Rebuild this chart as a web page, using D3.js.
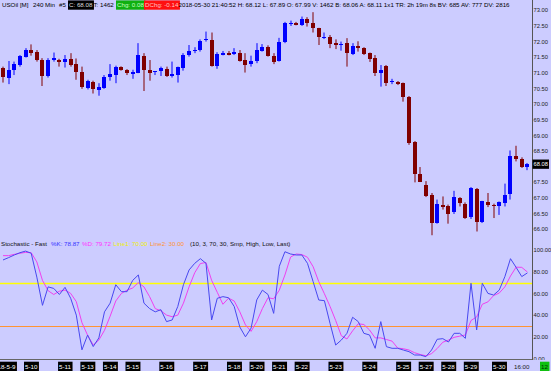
<!DOCTYPE html>
<html>
<head>
<meta charset="UTF-8">
<title>USOil 240 Min</title>
<script src="https://cdn.jsdelivr.net/npm/d3@7"></script>
<style>
  body { margin: 0; background: #ccccff; }
  svg { display: block; }
  text { font-family: "Liberation Sans", Arial, sans-serif; font-size: 6.2px; }
  text.ax { font-size: 5.8px; }
</style>
</head>
<body>
<svg id="chart" width="551" height="371"></svg>
<script>
// ---- data ----
const opens  = [71.15,70.83,71.09,71.25,71.53,71.74,71.66,71.41,70.90,71.40,71.42,71.35,71.45,71.28,71.03,70.52,70.72,70.47,70.52,70.85,
                70.93,71.18,71.09,70.98,71.01,71.55,71.09,71.03,71.04,71.13,70.91,70.93,71.17,71.57,71.69,71.73,72.03,72.05,71.22,71.60,
                71.65,71.60,71.65,71.41,71.26,71.37,71.71,71.84,71.55,71.38,71.98,72.56,72.60,72.53,72.72,72.60,72.43,72.12,72.16,71.97,
                71.89,71.95,71.61,71.86,71.80,71.63,71.48,71.01,71.22,70.69,70.71,70.67,70.24,68.80,67.78,67.42,67.10,66.20,66.79,66.76,
                66.54,66.99,66.82,66.39,67.30,66.23,66.87,66.79,66.73,66.86,67.10,68.33,68.26,67.99];
const highs  = [71.20,71.38,71.36,71.57,71.79,71.91,71.73,71.47,71.47,71.65,71.45,71.57,71.63,71.46,71.20,70.78,70.75,70.67,70.93,71.28,
                71.23,71.21,71.12,71.10,71.95,71.63,71.41,71.06,71.20,71.20,71.36,71.20,71.63,71.89,71.82,72.07,72.32,72.29,71.66,71.70,
                71.70,71.79,71.73,71.63,71.55,71.95,71.92,71.88,71.63,72.12,72.63,72.67,72.63,72.80,72.78,72.94,72.44,72.29,72.21,72.07,
                72.00,72.11,71.95,72.01,71.82,71.65,71.57,71.25,71.25,70.81,70.74,70.69,70.26,68.82,67.99,67.54,67.16,66.95,67.05,66.79,
                67.23,67.03,66.86,67.35,67.32,66.91,67.16,66.82,66.89,67.46,68.52,68.67,68.30,68.12];
const lows   = [70.69,70.64,70.93,71.20,71.49,71.55,71.36,70.58,70.85,71.36,71.20,71.17,71.20,70.78,70.49,70.47,70.34,70.27,70.49,70.75,
                70.67,71.07,70.93,70.81,70.99,70.42,70.75,70.93,70.90,70.87,70.85,70.69,71.07,71.52,71.63,71.68,72.00,71.20,71.13,71.56,
                71.56,71.57,71.36,71.01,71.20,71.31,71.68,71.52,71.28,71.36,71.95,72.50,72.52,72.50,72.48,72.29,71.89,72.08,71.79,71.76,
                71.71,71.20,71.57,71.68,71.57,71.35,70.90,70.56,70.58,70.64,70.61,70.08,68.70,67.50,67.51,67.03,65.81,66.18,66.63,66.18,
                66.49,66.73,66.33,66.33,65.93,66.20,66.71,66.36,66.46,66.73,66.95,68.17,67.96,67.89];
const closes = [70.85,71.09,71.29,71.53,71.74,71.66,71.39,70.91,71.41,71.46,71.36,71.45,71.25,71.02,70.54,70.74,70.49,70.55,70.88,70.96,
                71.20,71.09,71.01,71.03,71.57,71.09,71.01,71.06,71.15,70.91,70.97,71.18,71.57,71.71,71.73,72.03,72.07,71.22,71.60,71.65,
                71.58,71.66,71.38,71.24,71.37,71.73,71.84,71.54,71.37,71.98,72.59,72.60,72.54,72.72,72.59,72.43,72.13,72.15,71.95,71.90,
                71.93,71.63,71.86,71.79,71.60,71.43,71.01,71.09,70.69,70.73,70.66,70.22,68.77,67.77,67.53,67.07,66.20,66.81,66.73,66.50,
                67.02,66.82,66.36,67.31,66.25,66.89,66.76,66.75,66.86,67.10,68.33,68.22,68.01,68.08];

const stochK = [90.8,93,95.4,97.5,99,97,75,49,66,64.6,59,65.6,55.5,40,8,21.6,11,19,43,51,
                68,61.6,61.6,72,77,51,46,43,45,34,35.5,48,68,81.6,87.7,92,87.7,35.5,55.5,57,
                56,48,29,20,28,54,63,59,41.6,85,98.4,96.3,95.4,95.4,87.7,70.8,53.9,53.3,32.4,12.4,
                17,23.2,38,34,23.2,21.7,9.4,34,10.9,9.4,9.4,7.8,6.3,3.2,3.2,1.7,7.8,17.7,18.3,15.2,
                23.2,23.2,18.6,69.3,26.3,69.3,60,58.5,63,75.4,92,84,75.5,78.87];
const stochD = [94.8,94.8,96,97,97.8,97.5,89,72,62.5,59,62,63.1,60,52.4,33,21.5,12.4,17,26,39,
                53,60,63,65,70,66,57,46,44,40,38.5,40,51,66,79,87.5,88.5,72,61,50,
                55.6,53,43,31,25,34,46,56,55,63,77,93.5,96.3,95.8,93.3,84.6,70.8,59.7,48,35,
                21,18,25.5,32,31.3,26.3,19,19,17.5,16,9.6,9,7.8,5.3,3.7,2.5,4.5,9.2,15,17,
                19.5,20.6,21.7,35,38.3,50,52.2,58,60.3,66,76,84.2,84,79.72];

const dateLabels = ["2018-5-9","5-10","5-11","5-13","5-14","5-15","5-16","5-17","5-18","5-20",
                    "5-21","5-22","5-23","5-24","5-25","5-27","5-28","5-29","5-30"];
const dateBars   = [0,5,11,15,19,23,29,35,41,45,49,53,59,65,71,75,79,83,88];
const timeLabel = "16:00", timeBar = 92;

const priceTicks = [73,72.5,72,71.5,71,70.5,70,69.5,69,68.5,67.5,67,66.5,66];
const stochTicks = [100,80,60,40,20,0];
const line1 = 70, line2 = 30;
const lastPrice = 68.08;

// ---- layout ----
const svg = d3.select("#chart");
const axisX = 532;

const x = d3.scaleLinear().domain([0, 93]).range([3, 527.4]);
const yPrice = d3.scaleLinear().domain([66, 73]).range([229.3, 10.3]);
const yStoch = d3.scaleLinear().domain([0, 100]).range([358.5, 250]);

// draws a text with a filled box behind it
function boxText(g, tx, ty, str, bg, fg, anchor, cls) {
    let t = g.append("text").attr("x", tx).attr("y", ty)
        .attr("text-anchor", anchor || "start").attr("fill", fg).text(str);
    if (cls) t.attr("class", cls);
    let b = t.node().getBBox();
    g.insert("rect", "text").attr("x", b.x - 1).attr("y", ty - 6.8)
        .attr("width", b.width + 2).attr("height", 9.3).attr("fill", bg);
    t.raise();
    return t;
}

// ---- candles ----
const bars = closes.map((c, i) => ({ i: i, o: opens[i], h: highs[i], l: lows[i], c: c }));
const candles = svg.append("g").attr("id", "candles");
candles.selectAll("line").data(bars).join("line")
    .attr("x1", d => Math.round(x(d.i))).attr("x2", d => Math.round(x(d.i)))
    .attr("y1", d => yPrice(d.h)).attr("y2", d => yPrice(d.l))
    .attr("stroke", d => d.c >= d.o ? "#0000ff" : "#800000")
    .attr("stroke-width", 1);
candles.selectAll("rect").data(bars).join("rect")
    .attr("x", d => Math.round(x(d.i)) - 2).attr("width", 4)
    .attr("y", d => Math.round(yPrice(Math.max(d.o, d.c))))
    .attr("height", d => Math.max(1, Math.round(Math.abs(yPrice(d.o) - yPrice(d.c)))))
    .attr("fill", d => d.c >= d.o ? "#0000ff" : "#800000");

// ---- stochastic ----
const stoch = svg.append("g").attr("id", "stoch");
stoch.append("line").attr("x1", 0).attr("x2", axisX)
    .attr("y1", Math.round(yStoch(line1)) + 0.5).attr("y2", Math.round(yStoch(line1)) + 0.5)
    .attr("stroke", "#ffff00").attr("stroke-width", 1.3);
stoch.append("line").attr("x1", 0).attr("x2", axisX)
    .attr("y1", Math.round(yStoch(line2)) + 0.5).attr("y2", Math.round(yStoch(line2)) + 0.5)
    .attr("stroke", "#ff9433").attr("stroke-width", 1);
const stochLine = d3.line().x((d, i) => x(i)).y(d => yStoch(d));
stoch.append("path").datum(stochD).attr("d", stochLine)
    .attr("fill", "none").attr("stroke", "#f040f0").attr("stroke-width", 1);
stoch.append("path").datum(stochK).attr("d", stochLine)
    .attr("fill", "none").attr("stroke", "#4848f0").attr("stroke-width", 1);

// ---- right axis ----
const axisG = svg.append("g").attr("id", "axes");
axisG.append("defs").append("clipPath").attr("id", "panelClip")
    .append("rect").attr("x", 0).attr("y", 0).attr("width", 551).attr("height", 360);
axisG.append("line").attr("x1", axisX + 0.5).attr("x2", axisX + 0.5)
    .attr("y1", 0).attr("y2", 360).attr("stroke", "#555");
axisG.selectAll("text.price").data(priceTicks).join("text").attr("class", "ax price")
    .attr("x", axisX + 1.5).attr("y", d => yPrice(d) + 2.1)
    .attr("fill", "#222").text(d => d.toFixed(2));
axisG.append("g").attr("clip-path", "url(#panelClip)")
    .selectAll("text").data(stochTicks).join("text").attr("class", "ax")
    .attr("x", axisX + 1.5).attr("y", d => yStoch(d) + 2.1)
    .attr("fill", "#222").text(d => d.toFixed(2));
boxText(axisG, axisX + 1.5, yPrice(lastPrice) + 2.1, lastPrice.toFixed(2), "#000", "#fff", "start", "ax");

// ---- bottom date axis ----
axisG.append("line").attr("x1", 0).attr("x2", axisX)
    .attr("y1", 359.5).attr("y2", 359.5).attr("stroke", "#666");
dateLabels.forEach((lab, k) => {
    boxText(axisG, x(dateBars[k]), 368.5, lab, "#000", "#fff", "middle");
});
axisG.append("text").attr("x", x(timeBar)).attr("y", 368.5)
    .attr("text-anchor", "middle").attr("fill", "#222").text(timeLabel);
boxText(axisG, 541, 368.5, "12", "#10c010", "#003000");

// ---- header line ----
const head = svg.append("g").attr("id", "header");
head.append("text").attr("x", 2).attr("y", 7.2).text("USOil [M]");
head.append("text").attr("x", 33).attr("y", 7.2).text("240 Min");
head.append("text").attr("x", 59).attr("y", 7.2).text("#5");
boxText(head, 69, 7.2, "C: 68.08", "#000", "#ddd");
head.append("text").attr("x", 93.5).attr("y", 7.2).text("T: 1462");
boxText(head, 117, 7.2, "Chg: 0.08", "#10b010", "#c0ffc0");
boxText(head, 145, 7.2, "DChg: -0.14", "#ff1010", "#ffc0c0");
head.append("text").attr("x", 178.5).attr("y", 7.2)
    .text("2018-05-30 21:40:52 H: 68.12 L: 67.89 O: 67.99 V: 1462 B: 68.06 A: 68.11 1x1 TR: 2h 19m 8s BV: 685 AV: 777 DV: 2816");

// ---- stochastic title ----
const st = svg.append("g").attr("id", "stoch-title");
const titleParts = [
    { s: "Stochastic - Fast", c: "#111", x: 1 },
    { s: "%K: 78.87", c: "#3333ff", x: 51 },
    { s: "%D: 79.72", c: "#ff33ff", x: 82 },
    { s: "Line1: 70.00", c: "#f0f000", x: 113.5 },
    { s: "Line2: 30.00", c: "#ff9433", x: 150 },
    { s: "(10, 3, 70, 30, Smp, High, Low, Last)", c: "#111", x: 190 }
];
st.selectAll("text").data(titleParts).join("text")
    .attr("x", d => d.x).attr("y", 246.3).attr("fill", d => d.c).text(d => d.s);
</script>
</body>
</html>
